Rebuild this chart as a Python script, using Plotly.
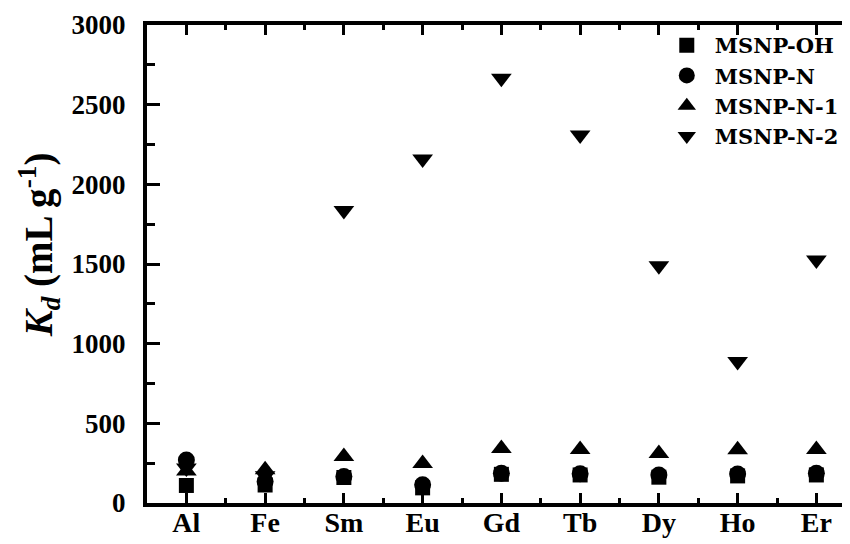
import plotly.graph_objects as go

categories = ["Al", "Fe", "Sm", "Eu", "Gd", "Tb", "Dy", "Ho", "Er"]
x_pos = [1, 2, 3, 4, 5, 6, 7, 8, 9]
msnp_oh = [110, 113, 160, 95, 180, 176, 162, 170, 176]
msnp_n = [270, 135, 166, 115, 186, 184, 176, 182, 186]
msnp_n1 = [201, 208, 292, 248, 342, 336, 310, 334, 336]
msnp_n2 = [219, 171, 1835, 2159, 2666, 2310, 1489, 888, 1525]

series_names = ["MSNP-OH", "MSNP-N", "MSNP-N-1", "MSNP-N-2"]
series_values = [msnp_oh, msnp_n, msnp_n1, msnp_n2]
symbols = ["square", "circle", "triangle-up", "triangle-down"]
sizes = [15, 17, 18, 18]

FONT = "Liberation Serif, Times New Roman, serif"
LEGEND_FONT = "DejaVu Serif, serif"

fig = go.Figure()
for name, vals, sym, sz in zip(series_names, series_values, symbols, sizes):
    fig.add_trace(go.Scatter(
        x=x_pos, y=vals, mode="markers", name=name,
        marker=dict(symbol=sym, size=sz, color="black", line=dict(width=0)),
    ))

fig.update_layout(
    width=850, height=544,
    margin=dict(l=139, r=8, t=17, b=49, autoexpand=False),
    plot_bgcolor="white", paper_bgcolor="white",
    font=dict(family=FONT, color="black", size=24, weight="bold"),
    showlegend=True,
    legend=dict(
        x=0.728, y=1.0, xanchor="left", yanchor="top",
        bgcolor="rgba(0,0,0,0)", borderwidth=0,
        font=dict(family=LEGEND_FONT, size=21, color="black", weight="bold"),
        itemwidth=46, tracegroupgap=0,
    ),
)

fig.update_xaxes(
    range=[0.5, 9.427], automargin=False,
    tickmode="array", tickvals=x_pos, ticktext=categories,
    ticks="inside", ticklen=10, tickwidth=3, tickcolor="black",
    showline=True, linewidth=4, linecolor="black", mirror="ticks",
    showgrid=False, zeroline=False,
    tickfont=dict(family=FONT, size=28, color="black", weight="bold"),
    ticklabelstandoff=-9,
    minor=dict(tickvals=[1.5, 2.5, 3.5, 4.5, 5.5, 6.5, 7.5, 8.5], ticks="inside",
               ticklen=5, tickwidth=3, tickcolor="black", showgrid=False),
)

fig.update_yaxes(
    range=[0, 3000], automargin=False,
    tickmode="linear", tick0=0, dtick=500,
    ticks="inside", ticklen=13, tickwidth=3, tickcolor="black",
    showline=True, linewidth=4, linecolor="black",
    showgrid=False, zeroline=False,
    tickfont=dict(family=FONT, size=27, color="black", weight="bold"),
    ticklabelstandoff=12,
    minor=dict(dtick=250, tick0=0, ticks="inside", ticklen=8, tickwidth=3,
               tickcolor="black", showgrid=False),
    title=dict(
        text="&nbsp;&nbsp;&nbsp;&nbsp;<i>K</i><sub><i>d</i></sub> (mL g<sup>-1</sup>)",
        font=dict(family=FONT, size=39, color="black", weight="bold"),
        standoff=8,
    ),
)

fig.write_html("out.html")
